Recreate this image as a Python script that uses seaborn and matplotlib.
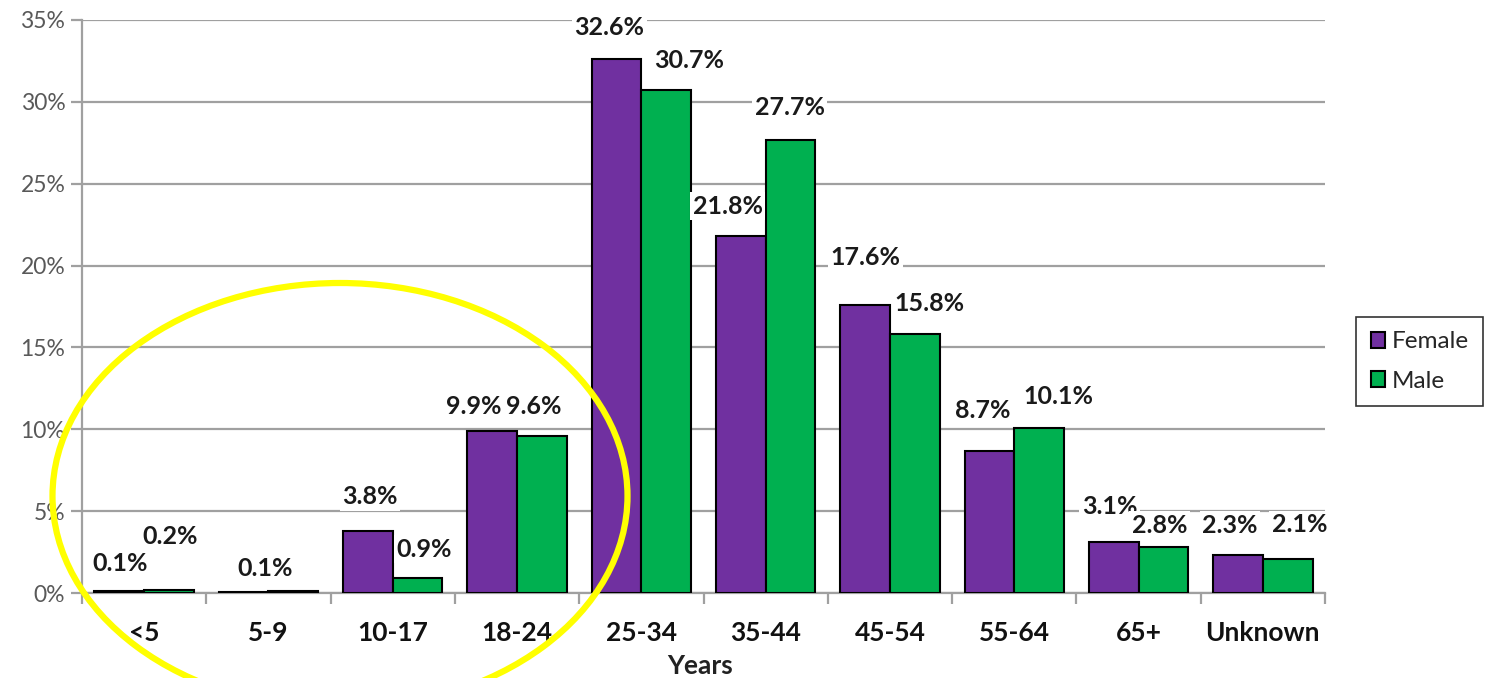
import matplotlib
matplotlib.use("Agg")
import matplotlib.pyplot as plt
import matplotlib.patches as mpatches
import seaborn as sns
import pandas as pd
import numpy as np

# ---- data ----
age_groups = ["<5", "5-9", "10-17", "18-24", "25-34", "35-44", "45-54", "55-64", "65+", "Unknown"]
female = [0.1, 0.05, 3.8, 9.9, 32.6, 21.8, 17.6, 8.7, 3.1, 2.3]
male = [0.2, 0.1, 0.9, 9.6, 30.7, 27.7, 15.8, 10.1, 2.8, 2.1]
female_labels = ["0.1%", "", "3.8%", "9.9%", "32.6%", "21.8%", "17.6%", "8.7%", "3.1%", "2.3%"]
male_labels = ["0.2%", "0.1%", "0.9%", "9.6%", "30.7%", "27.7%", "15.8%", "10.1%", "2.8%", "2.1%"]
yticks = [0, 5, 10, 15, 20, 25, 30, 35]

# label offsets in pixels (dx, dy up) relative to bar-top centre
female_off = [(1, 28), (0, 0), (2, 34), (-18, 24), (-7, 32), (-13, 30), (0, 47), (-7, 40), (-4, 36), (-8, 30)]
male_off = [(1, 53), (-28, 23), (7, 29), (-8, 29), (23, 30), (-1, 32), (15, 31), (19, 31), (-4, 22), (12, 34)]

df = pd.DataFrame({
    "Age": age_groups * 2,
    "Value": female + male,
    "Sex": ["Female"] * len(age_groups) + ["Male"] * len(age_groups),
})

sns.set_theme(style="white")
plt.rcParams["font.family"] = ["Lato", "DejaVu Sans"]

W, H = 1486, 678
fig = plt.figure(figsize=(W / 100, H / 100), dpi=100)
ax = fig.add_axes([82 / W, (H - 593) / H, (1325 - 82) / W, (593 - 20) / H])

purple = "#7030A0"
green = "#00B050"
sns.barplot(data=df, x="Age", y="Value", hue="Sex", order=age_groups,
            hue_order=["Female", "Male"], palette=[purple, green], saturation=1,
            edgecolor="black", linewidth=1.5, width=0.8, ax=ax, zorder=3,
            legend=True)

grid_c = "#A0A0A0"
ax.set_ylim(0, 35)
ax.set_xlim(-0.5, len(age_groups) - 0.5)
ax.set_yticks(yticks)
ax.set_yticklabels([f"{t}%" for t in yticks], color="#595959", fontsize=16.5)
ax.yaxis.grid(True, color=grid_c, linewidth=1.6, zorder=0)
ax.set_axisbelow(True)
for s in ["top", "right"]:
    ax.spines[s].set_visible(False)
for s in ["left", "bottom"]:
    ax.spines[s].set_color(grid_c)
    ax.spines[s].set_linewidth(1.6)
ax.tick_params(axis="y", which="major", left=True, length=8, width=1.6, color=grid_c, pad=4)

ax.set_xticks(range(len(age_groups)))
ax.set_xticklabels(age_groups, fontsize=19, fontweight="bold", color="#111111")
ax.set_xticks(np.arange(-0.5, len(age_groups), 1), minor=True)
ax.tick_params(axis="x", which="major", length=0, pad=20)
ax.tick_params(axis="x", which="minor", bottom=True, length=8, width=1.6, color=grid_c)
ax.set_xlabel("Years", fontsize=19, fontweight="bold", color="#222222")
ax.xaxis.set_label_coords((700 - 82) / (1325 - 82), (593 - 654) / (593 - 20))
ax.set_ylabel("")

# value labels
bw = 0.4
for i in range(len(age_groups)):
    for vals, labs, offs, shift in ((female, female_labels, female_off, -bw / 2),
                                     (male, male_labels, male_off, bw / 2)):
        if not labs[i]:
            continue
        dx, dy = offs[i]
        ax.annotate(labs[i], xy=(i + shift, vals[i]), xytext=(dx * 0.72, dy * 0.72),
                    textcoords="offset points", ha="center", va="center",
                    fontsize=18, fontweight="bold", color="#1a1a1a", zorder=5,
                    bbox=dict(boxstyle="square,pad=0.1", fc="white", ec="none"),
                    annotation_clip=False)

# legend
handles, labels = ax.get_legend_handles_labels()
leg = ax.legend(handles, labels, loc="center", bbox_to_anchor=(1419.5 / W, (H - 361.5) / H),
                bbox_transform=fig.transFigure, frameon=True, fancybox=False,
                edgecolor="black", fontsize=17.5, handlelength=0.6, handleheight=0.6,
                handletextpad=0.25, labelspacing=0.75, borderpad=0.6)
leg.get_frame().set_linewidth(1.2)

# yellow ellipse highlight
ell = mpatches.Ellipse((340 / W, (H - 496) / H), 575 / W, 426 / H,
                       transform=fig.transFigure, fill=False, edgecolor="#FFFF00",
                       linewidth=4.5, zorder=10, clip_on=False)
fig.add_artist(ell)

fig.savefig("out.png", dpi=100, facecolor="white")
